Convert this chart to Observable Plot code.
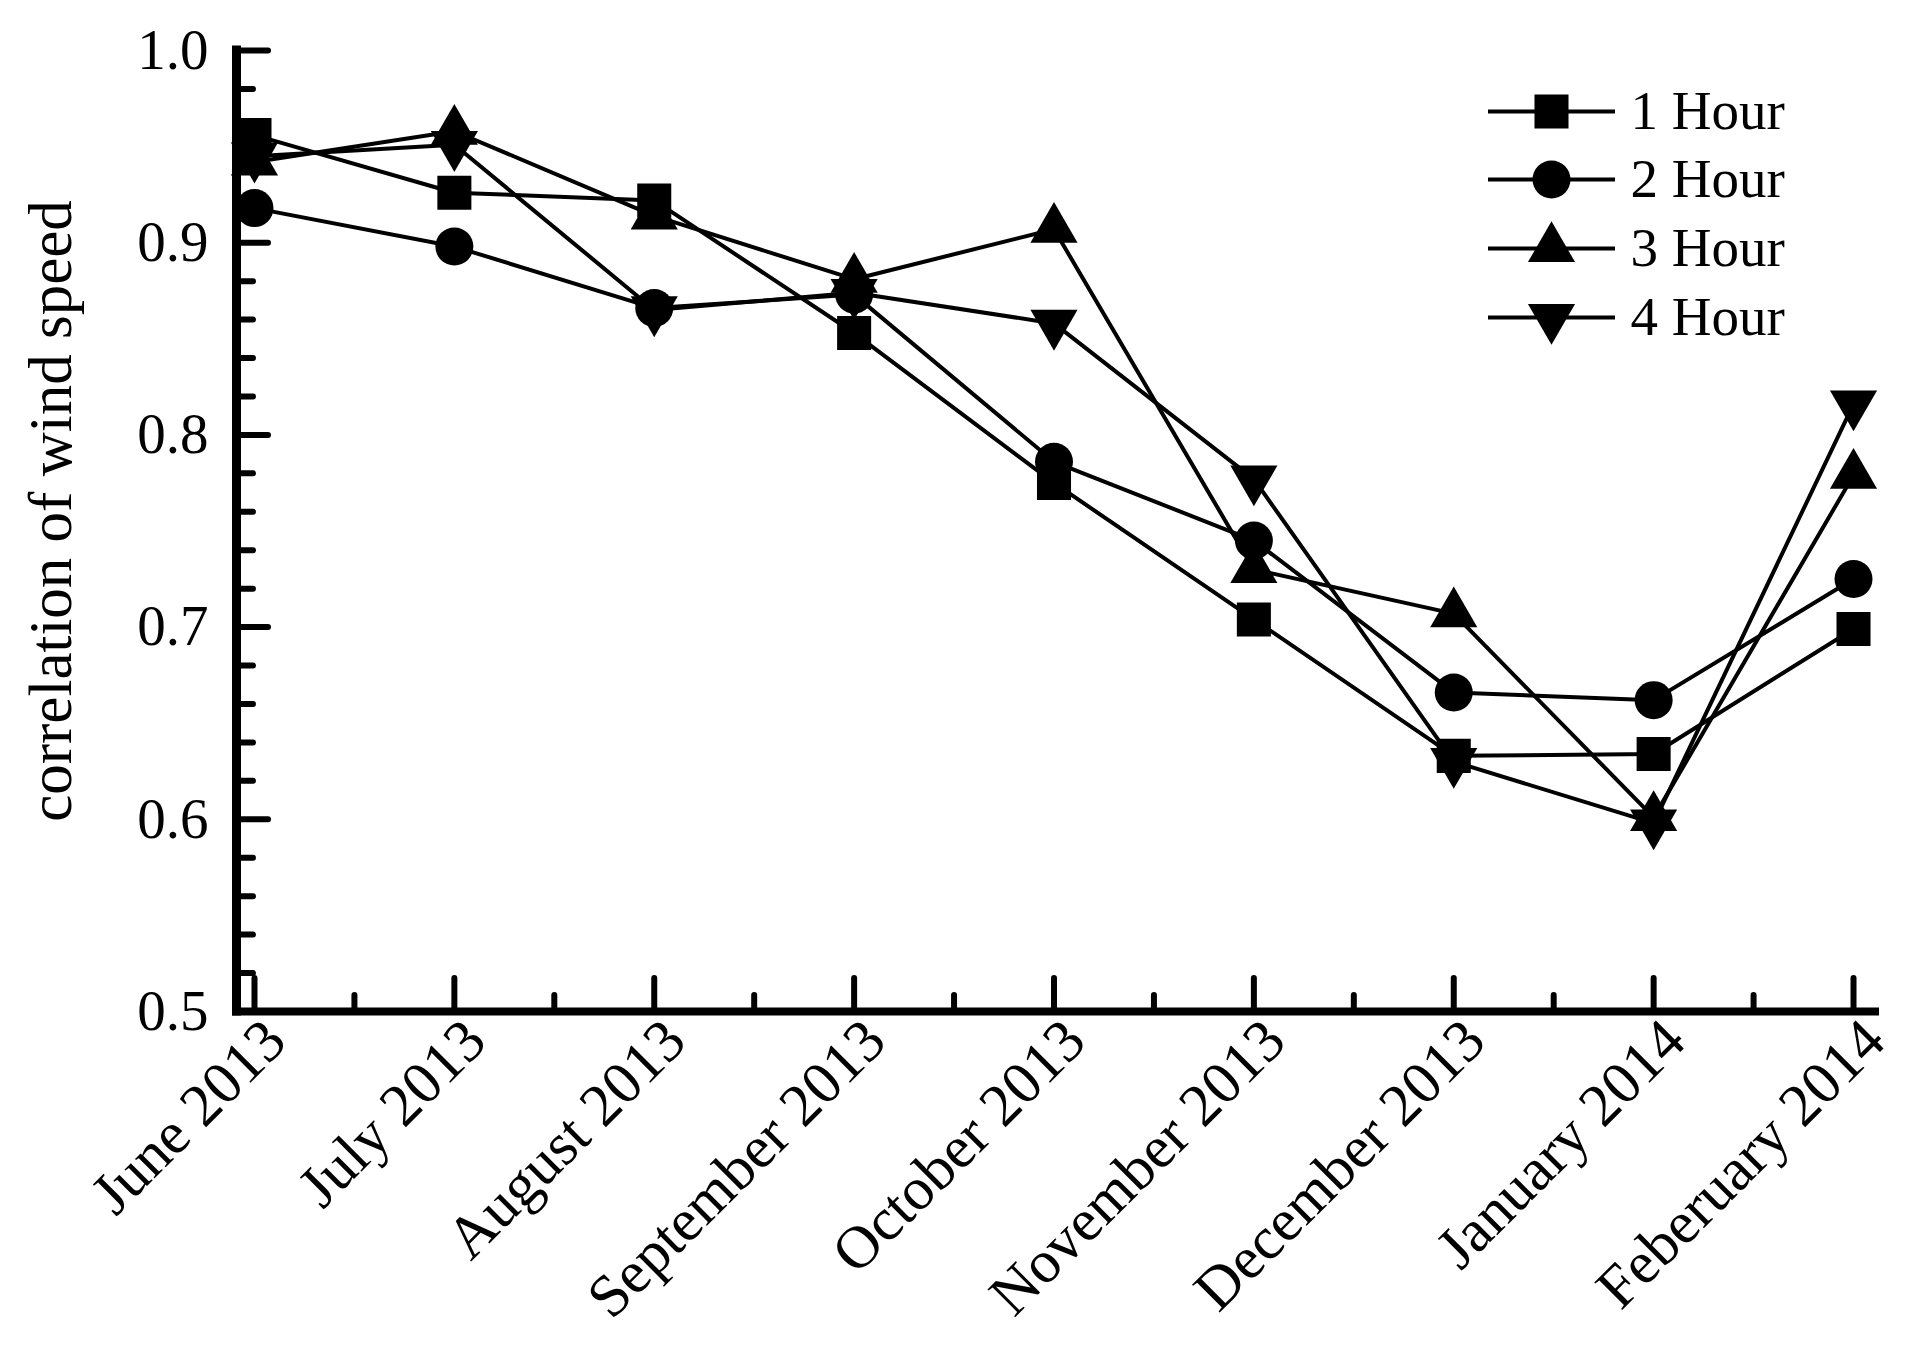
<!DOCTYPE html>
<html><head><meta charset="utf-8">
<script src="https://cdn.jsdelivr.net/npm/d3@7"></script>
<script src="https://cdn.jsdelivr.net/npm/@observablehq/plot@0.6"></script>
<style>html,body{margin:0;padding:0;background:#fff;} #chart svg{display:block;}</style>
</head><body><div id="chart"></div>
<script>
// ---- data ----
const months = ["June 2013","July 2013","August 2013","September 2013","October 2013","November 2013","December 2013","January 2014","Feberuary 2014"];
const monthIndex = [0,1,2,3,4,5,6,7,8];
const seriesNames = ["1 Hour","2 Hour","3 Hour","4 Hour"];
const hour1 = [0.956,0.926,0.922,0.853,0.775,0.704,0.633,0.634,0.699];
const hour2 = [0.918,0.898,0.866,0.873,0.786,0.745,0.666,0.662,0.725];
const hour3 = [0.942,0.958,0.914,0.881,0.907,0.730,0.707,0.601,0.779];
const hour4 = [0.945,0.951,0.865,0.874,0.858,0.777,0.630,0.598,0.816];
const yMajorTicks = [0.5,0.6,0.7,0.8,0.9,1.0];
const yMinorTicks = [0.52,0.54,0.56,0.58,0.62,0.64,0.66,0.68,0.72,0.74,0.76,0.78,0.82,0.84,0.86,0.88,0.92,0.94,0.96,0.98];
const xMinorTicks = [0.5,1.5,2.5,3.5,4.5,5.5,6.5,7.5];
const xDomain = [-0.09, 8.11];
const yDomain = [0.5, 1.0];
const yLabel = "correlation of wind speed";

// ---- layout ----
const W = 1907, H = 1345, mL = 236, mR = 32, mT = 50, mB = 334;
const plotW = W - mL - mR, plotH = H - mT - mB;

const sqrt3 = Math.sqrt(3);
const triangleDown = {draw(ctx, size) {
  const y = -Math.sqrt(size / (sqrt3 * 3));
  ctx.moveTo(0, -y * 2);
  ctx.lineTo(-sqrt3 * y, y);
  ctx.lineTo(sqrt3 * y, y);
  ctx.closePath();
}};
const hline = {draw(ctx) { ctx.moveTo(-63.5, 0); ctx.lineTo(63.5, 0); }};

const seriesValues = [hour1, hour2, hour3, hour4];
const symbols = ["square", "circle", "triangle", triangleDown];
const radii = [19.2, 19, 17.5, 17.5];
const legendDy = [61, 129, 198, 267];

const rows = seriesValues.map((vals, k) => monthIndex.map(i => ({i, v: vals[i], s: seriesNames[k]})));

const marks = [];
// axis lines
marks.push(Plot.ruleX([xDomain[0]], {stroke: "black", strokeWidth: 9, strokeLinecap: "square"}));
marks.push(Plot.ruleY([yDomain[0]], {stroke: "black", strokeWidth: 8, strokeLinecap: "square"}));
// ticks (inward)
marks.push(Plot.ruleY(yMajorTicks, {stroke: "black", strokeWidth: 6, strokeLinecap: "round", insetRight: plotW - 32}));
marks.push(Plot.ruleY(yMinorTicks, {stroke: "black", strokeWidth: 6, strokeLinecap: "round", insetRight: plotW - 17}));
marks.push(Plot.ruleX(monthIndex, {stroke: "black", strokeWidth: 6, strokeLinecap: "round", insetTop: plotH - 33}));
marks.push(Plot.ruleX(xMinorTicks, {stroke: "black", strokeWidth: 6, strokeLinecap: "round", insetTop: plotH - 16}));
// y tick labels
marks.push(Plot.axisY(yMajorTicks, {tickSize: 0, tickPadding: 28, tickFormat: d3.format(".1f"), fontSize: 57, label: null, fill: "black"}));
// x tick labels
marks.push(Plot.text(monthIndex, {x: d => d, frameAnchor: "bottom", text: i => months[i], rotate: -45, textAnchor: "end", lineAnchor: "middle", dx: 21, dy: 19, fontSize: 60, fill: "black"}));
// y label
marks.push(Plot.text([yLabel], {frameAnchor: "left", rotate: -90, textAnchor: "middle", lineAnchor: "bottom", dx: -166, dy: -20, fontSize: 61, fill: "black"}));
// series
rows.forEach((r, k) => {
  marks.push(Plot.line(r, {x: "i", y: "v", stroke: "black", strokeWidth: 4}));
});
rows.forEach((r, k) => {
  marks.push(Plot.dot(r, {x: "i", y: "v", symbol: symbols[k], r: radii[k], fill: "black", stroke: "none"}));
});
// legend
seriesNames.forEach((name, k) => {
  marks.push(Plot.dot([name], {frameAnchor: "top-right", symbol: hline, r: 10, stroke: "black", strokeWidth: 4, fill: "none", dx: -324, dy: legendDy[k]}));
  marks.push(Plot.dot([name], {frameAnchor: "top-right", symbol: symbols[k], r: radii[k], fill: "black", stroke: "none", dx: -324, dy: legendDy[k]}));
  marks.push(Plot.text([name], {frameAnchor: "top-right", textAnchor: "start", lineAnchor: "middle", dx: -245, dy: legendDy[k], fontSize: 55, fill: "black"}));
});

const chart = Plot.plot({
  width: W, height: H,
  marginLeft: mL, marginRight: mR, marginTop: mT, marginBottom: mB,
  style: {fontFamily: "'Liberation Serif', 'Times New Roman', serif", color: "black", background: "white"},
  x: {type: "linear", domain: xDomain, axis: null},
  y: {type: "linear", domain: yDomain, axis: null},
  marks
});
document.getElementById("chart").appendChild(chart);
</script>
</body></html>
